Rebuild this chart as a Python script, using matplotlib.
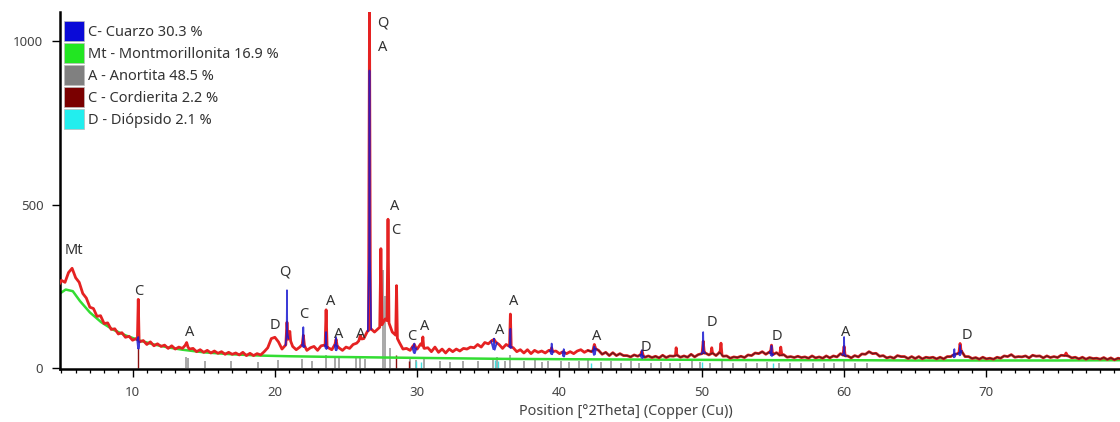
import numpy as np
import matplotlib
matplotlib.use("Agg")
import matplotlib.pyplot as plt
from matplotlib.patches import Patch
from matplotlib.ticker import MultipleLocator

plt.rcParams['font.family'] = ['Noto Sans', 'DejaVu Sans']

# observed scan, counts every 0.25 deg 2theta starting at 4.75
scan_start = 4.75
scan_step = 0.25
red_base = [
    250, 268, 262, 292, 305, 276, 262, 228,
    214, 186, 182, 158, 160, 136, 138, 118,
    120, 104, 108, 94, 97, 85, 90, 80,
    84, 72, 80, 68, 74, 66, 70, 60,
    68, 58, 64, 60, 72, 58, 60, 50,
    56, 48, 54, 46, 52, 45, 50, 42,
    48, 42, 46, 40, 48, 38, 45, 38,
    44, 40, 50, 62, 90, 94, 80, 58,
    70, 95, 66, 56, 64, 75, 54, 62,
    66, 54, 68, 70, 62, 56, 74, 62,
    54, 64, 60, 72, 76, 88, 90, 112,
    120, 110, 120, 130, 150, 140, 110, 100,
    78, 58, 60, 54, 70, 58, 74, 60,
    62, 50, 64, 48, 58, 46, 58, 50,
    58, 52, 60, 58, 64, 62, 72, 64,
    78, 74, 84, 80, 72, 60, 72, 66,
    62, 50, 56, 46, 56, 44, 54, 48,
    52, 46, 54, 50, 52, 44, 50, 44,
    50, 44, 52, 56, 48, 54, 50, 60,
    54, 42, 48, 38, 47, 38, 44, 38,
    38, 34, 40, 36, 42, 33, 37, 32,
    36, 31, 39, 32, 37, 36, 40, 33,
    37, 33, 42, 34, 41, 44, 46, 40,
    46, 38, 48, 36, 37, 30, 34, 32,
    36, 32, 40, 38, 46, 44, 50, 42,
    49, 41, 47, 38, 41, 33, 35, 32,
    36, 32, 34, 30, 37, 31, 34, 30,
    37, 31, 37, 34, 44, 37, 37, 31,
    38, 34, 43, 42, 50, 44, 45, 36,
    38, 31, 34, 30, 38, 35, 35, 29,
    35, 29, 35, 28, 33, 31, 33, 28,
    33, 28, 35, 35, 42, 44, 52, 35,
    35, 29, 32, 27, 33, 28, 30, 27,
    33, 30, 37, 35, 41, 33, 35, 34,
    37, 31, 39, 36, 37, 31, 37, 32,
    35, 32, 39, 38, 37, 31, 33, 28,
    33, 27, 32, 29, 30, 27, 32, 26,
    31, 25, 30, 28, 31, 26, 29, 27,
    30, 26, 29, 27, 30, 26, 29, 25,
    29, 26, 28, 25, 29, 26, 28, 26,
    28, 25, 28, 26, 28, 25, 27, 26,
]

# sharp reflections in the observed scan: position, top, half width
red_peak_pos = [10.4, 13.8, 20.85, 21.05, 22.0, 23.6, 24.3, 26.0, 26.65, 27.45,
                27.95, 28.55, 29.8, 30.4, 35.4, 36.55, 39.45, 42.45, 45.8, 48.2,
                50.1, 50.7, 51.35, 54.9, 55.55, 60.0, 68.15, 75.6]
red_peak_h = [210, 78, 140, 112, 100, 178, 88, 100, 1090, 365,
              455, 252, 72, 95, 88, 165, 62, 72, 52, 62,
              82, 62, 76, 70, 64, 66, 75, 46]
red_peak_w = [0.06, 0.1, 0.08, 0.06, 0.08, 0.07, 0.08, 0.1, 0.07, 0.08,
              0.07, 0.06, 0.1, 0.06, 0.12, 0.06, 0.08, 0.1, 0.1, 0.05,
              0.08, 0.06, 0.07, 0.08, 0.08, 0.08, 0.08, 0.08]

# quartz profile (blue)
blue_peak_pos = [10.4, 20.85, 22.0, 23.6, 24.3, 26.65, 29.8, 35.4, 36.55, 39.45,
                 40.3, 42.45, 45.8, 50.1, 54.9, 60.0, 67.75, 68.15]
blue_peak_h = [95, 238, 125, 110, 95, 910, 75, 90, 120, 75,
               58, 66, 55, 110, 68, 95, 58, 70]
blue_peak_w = [0.08, 0.1, 0.1, 0.1, 0.1, 0.12, 0.15, 0.2, 0.1, 0.12,
               0.1, 0.12, 0.12, 0.12, 0.12, 0.12, 0.1, 0.1]

# background (green)
green_x = [4.8, 5.3, 5.8, 6.3, 7.0, 7.8, 8.6, 9.5, 10.5, 11.5, 12.5, 13.5, 15, 17, 19,
           21, 24, 28, 32, 36, 40, 45, 50, 55, 60, 65, 70, 75, 80, 86.5]
green_y = [225, 240, 235, 205, 170, 140, 118, 100, 84, 72, 63, 56, 48, 42, 38,
           36, 34, 32, 30, 28, 27, 26, 25, 24, 24, 23, 23, 23, 24, 25]

# reference sticks
gray_pos = [13.75, 13.9, 15.1, 16.9, 18.8, 20.2, 21.9, 22.6, 23.6, 24.2, 24.5, 25.7,
            26.0, 26.3, 27.6, 27.75, 28.1, 29.5, 29.9, 30.5, 31.6, 32.3, 33.2, 34.3,
            35.3, 35.6, 36.2, 36.5, 37.5, 38.3, 38.8, 39.2, 40.1, 40.7, 41.4, 42.0,
            42.9, 43.6, 44.3, 45.0, 45.6, 46.4, 47.1, 47.8, 48.5, 49.3, 49.9, 50.6,
            51.4, 52.2, 53.1, 53.9, 54.6, 55.4, 56.2, 57.0, 57.8, 58.6, 59.3, 60.0,
            60.8, 61.6]
gray_h = [35, 30, 20, 22, 18, 25, 28, 22, 40, 30, 35, 30,
          34, 28, 300, 220, 60, 30, 25, 32, 20, 18, 22, 20,
          30, 34, 22, 40, 22, 25, 18, 22, 20, 18, 22, 25,
          18, 20, 15, 20, 16, 15, 18, 14, 16, 24, 18, 16,
          20, 14, 16, 15, 18, 16, 14, 15, 14, 16, 14, 28,
          14, 15]
cord_pos = [10.4, 28.5, 29.4]
cord_h = [60, 40, 20]
diop_pos = [29.9, 30.3, 35.5, 35.7, 42.2, 50.0, 55.0]
diop_h = [20, 18, 25, 20, 15, 18, 14]

# phase labels
label_txt = ['Mt', 'C', 'A', 'D', 'Q', 'C', 'A', 'A', 'A', 'Q', 'A', 'A', 'C',
             'C', 'A', 'A', 'A', 'A', 'D', 'D', 'D', 'A', 'D']
label_x = [5.9, 10.4, 14.0, 20.0, 20.7, 22.0, 23.9, 24.5, 26.0, 27.6, 27.6, 28.4, 28.5,
           29.6, 30.5, 35.8, 36.8, 42.6, 46.1, 50.7, 55.3, 60.1, 68.6]
label_y = [360, 235, 110, 130, 293, 165, 202, 104, 104, 1055, 980, 495, 422,
           95, 128, 116, 202, 95, 64, 138, 95, 110, 98]

legend_names = ['C- Cuarzo 30.3 %', 'Mt - Montmorillonita 16.9 %', 'A - Anortita 48.5 %',
                'C - Cordierita 2.2 %', 'D - Diópsido 2.1 %']
legend_colors = ['#0a0ad8', '#22e622', '#808080', '#7a0000', '#22eeee']


def with_peaks(bx, by, pos, h, w):
    keep = np.ones(len(bx), bool)
    for p, ww in zip(pos, w):
        keep &= np.abs(bx - p) > ww
    px, py = list(bx[keep]), list(by[keep])
    for p, hh, ww in zip(pos, h, w):
        px += [p - ww, p, p + ww]
        py += [np.interp(p - ww, bx, by), hh, np.interp(p + ww, bx, by)]
    order = np.argsort(px)
    return np.array(px)[order], np.array(py)[order]


base_y = np.array(red_base, float)
base_x = scan_start + scan_step * np.arange(len(base_y))

red_x, red_y = with_peaks(base_x, base_y, red_peak_pos, red_peak_h, red_peak_w)

fig = plt.figure(figsize=(11.2, 4.22), dpi=100)
ax = fig.add_axes([60 / 1120, 53 / 422, 1132 / 1120, 357.4 / 422])

ax.vlines(gray_pos, 0, gray_h, color='#a8a8a8', lw=1.4, zorder=1)
ax.vlines(diop_pos, 0, diop_h, color='#40e0e0', lw=1.0, zorder=1)
ax.vlines(cord_pos, 0, cord_h, color='#8b1010', lw=1.0, zorder=1)
ax.plot(green_x, green_y, color='#33dd33', lw=1.8, zorder=2)
ax.plot(red_x, red_y, color='#e52222', lw=2.0, zorder=3)
calc = base_x >= 42
ax.plot(base_x[calc], base_y[calc], color='#2a1418', lw=1.0, alpha=0.65, zorder=4)

# quartz reflections drawn as blue profiles sitting on the scan
for p, hh, ww in zip(blue_peak_pos, blue_peak_h, blue_peak_w):
    b0 = np.interp(p - ww, base_x, base_y)
    b1 = np.interp(p + ww, base_x, base_y)
    ax.plot([p - ww, p - ww / 4, p, p + ww / 4, p + ww],
            [b0, (b0 + hh) / 3, hh, (b1 + hh) / 3, b1],
            color='#1a1ad0', lw=1.2, alpha=0.85, zorder=4)

for t, x, y in zip(label_txt, label_x, label_y):
    ax.text(x, y, t, ha='center', va='center', fontsize=10.5, color='#333333', zorder=5)

ax.set_xlim(4.9, 84.45)
ax.set_ylim(-3, 1090)
ax.set_yticks([0, 500, 1000])
ax.xaxis.set_minor_locator(MultipleLocator(1))
ax.set_xticks([10, 20, 30, 40, 50, 60, 70])
for s in ['top', 'right']:
    ax.spines[s].set_visible(False)
for s in ['left', 'bottom']:
    ax.spines[s].set_linewidth(1.8)
ax.tick_params(axis='both', which='major', labelsize=9.5, labelcolor='#444444', length=6, width=1.0, pad=6)
ax.tick_params(axis='x', which='minor', length=3, width=0.9)
ax.set_xlabel('Position [°2Theta] (Copper (Cu))', fontsize=10.4, color='#444444', labelpad=4)

handles = [Patch(facecolor=c, edgecolor='#bbbbbb', lw=0.5) for c in legend_colors]
fig.legend(handles, legend_names, loc='upper left', bbox_to_anchor=(64 / 1120, 1 - 21 / 422),
           frameon=False, fontsize=10.5, handlelength=1.37, handleheight=1.73,
           labelspacing=0.14, handletextpad=0.27, borderpad=0, borderaxespad=0,
           labelcolor='#333333')

fig.savefig('out.png', dpi=100)
